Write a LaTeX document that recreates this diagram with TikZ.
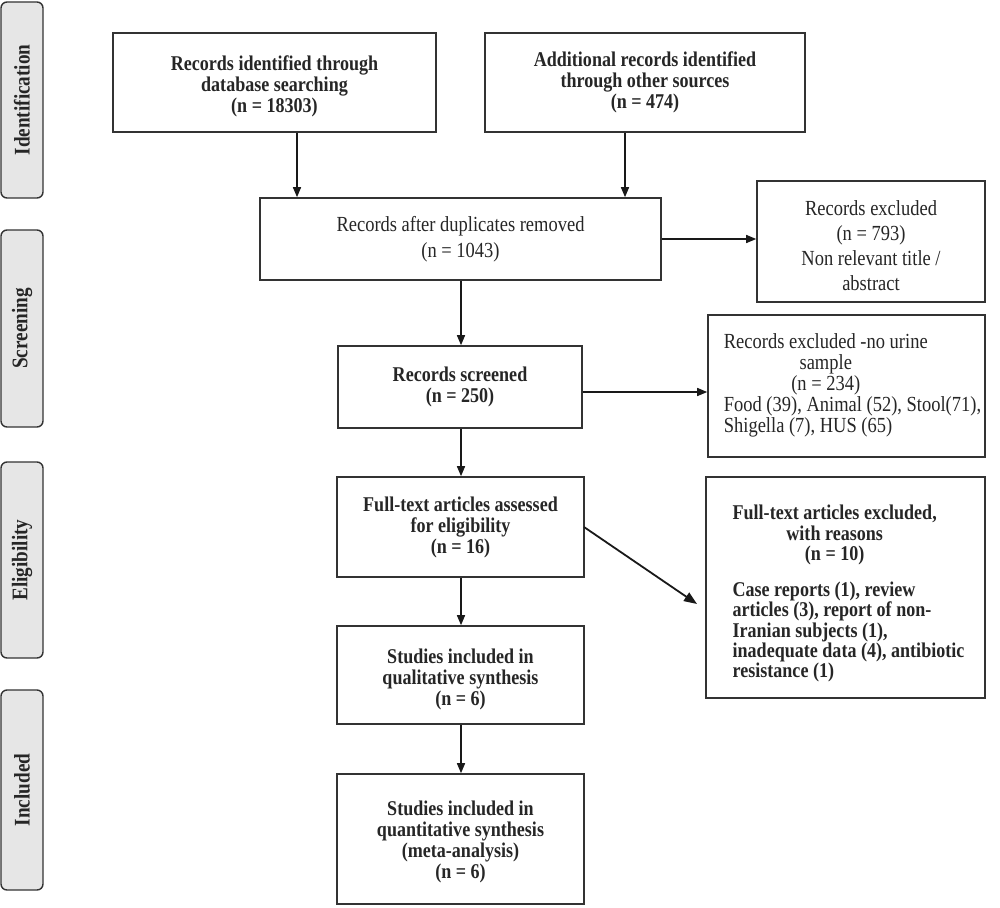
\documentclass[tikz,border=0pt]{standalone}
\usepackage{fontspec}
\setmainfont{Liberation Serif}[FakeStretch=0.86]
\usetikzlibrary{arrows.meta}
\definecolor{edge}{HTML}{333333}
\definecolor{txt}{HTML}{262626}
\definecolor{sidefill}{HTML}{E6E6E6}
\newcommand\lowtext[2]{\raisebox{-#1}[\height][\depth]{\begin{tabular}{@{}c@{}}#2\end{tabular}}}
\begin{document}
\begin{tikzpicture}[x=1pt,y=-1pt,
  box/.style={draw=edge, line width=1.6pt, fill=white, inner sep=0pt, align=center, text=txt},
  side/.style={draw=edge, line width=1.4pt, fill=sidefill, rounded corners=6pt, inner sep=0pt,
    minimum height=42pt, text=txt, rotate=90, font=\bfseries\fontsize{22.3}{22}\selectfont},
  arr/.style={line width=1.5pt, draw=black!90, -{Triangle[length=10pt,width=8pt]}},
  bt/.style={font=\bfseries\fontsize{21}{21}\selectfont},
  nt/.style={font=\fontsize{21.5}{25}\selectfont}]
\useasboundingbox (0,0) rectangle (1000,907);

% side labels
\node[side, minimum width=196pt] (sIdent) at (22,100) {Identification};
\node[side, minimum width=197pt] (sScreen) at (22,328.5) {Screening};
\node[side, minimum width=196pt] (sElig) at (22,560) {Eligibility};
\node[side, minimum width=200pt] (sIncl) at (22,790) {Included};

% boxes
\node[box, bt, minimum width=323pt, minimum height=99pt] (id1) at (274.5,82.5)
  {\lowtext{5pt}{Records identified through\\database searching\\(n = 18303)}};
\node[box, bt, minimum width=320pt, minimum height=99pt] (id2) at (645,82.5)
  {Additional records identified\\through other sources\\(n = 474)};
\node[box, nt, font=\fontsize{21.5}{26.5}\selectfont, minimum width=401pt, minimum height=82pt] (dup) at (460.5,239)
  {Records after duplicates removed\\(n = 1043)};
\node[box, nt, minimum width=228pt, minimum height=121pt] (exc1) at (871,241.5)
  {\lowtext{6pt}{Records excluded\\(n = 793)\\Non relevant title /\\abstract}};
\node[box, font=\fontsize{21.5}{20.7}\selectfont, minimum width=277pt, minimum height=142pt] (exc2) at (846.5,386)
  {\hspace*{12pt}\begin{tabular}{@{}l@{}}\begin{tabular}[b]{@{}c@{}}Records excluded -no urine\\sample\\(n = 234)\end{tabular}\\
   Food (39), Animal (52), Stool(71),\\Shigella (7), HUS (65)\end{tabular}};
\node[box, bt, minimum width=244pt, minimum height=82pt] (scr) at (460,387)
  {Records screened\\(n = 250)};
\node[box, bt, minimum width=247pt, minimum height=100pt] (full) at (460.5,527)
  {Full-text articles assessed\\for eligibility\\(n = 16)};
\node[box, font=\bfseries\fontsize{21}{20.2}\selectfont, minimum width=279pt, minimum height=221pt] (exc3) at (845.5,587.5)
  {\hspace*{6pt}\raisebox{-7pt}[\height][\depth]{\def\arraystretch{0.96}\begin{tabular}{@{}l@{}}\begin{tabular}[b]{@{}c@{}}Full-text articles excluded,\\with reasons\\(n = 10)\end{tabular}\\[15pt]
   Case reports (1), review\\articles (3), report of non-\\Iranian subjects (1),\\inadequate data (4), antibiotic\\resistance (1)\end{tabular}}};
\node[box, bt, minimum width=247pt, minimum height=98pt] (qual) at (460.5,675)
  {\lowtext{5pt}{Studies included in\\qualitative synthesis\\(n = 6)}};
\node[box, bt, minimum width=247pt, minimum height=130pt] (quant) at (460.5,839)
  {\lowtext{4pt}{Studies included in\\quantitative synthesis\\(meta-analysis)\\(n = 6)}};

% connector anchors
\coordinate (c1) at (297,0);
\coordinate (c2) at (625,0);
\coordinate (c3) at (0,392);
\coordinate (c4) at (461,0);
\coordinate (d1) at (584,527);
\coordinate (d2) at (697,604);

% connectors
\draw[arr] (id1.south -| c1) -- (dup.north -| c1);
\draw[arr] (id2.south -| c2) -- (dup.north -| c2);
\draw[arr] (dup.east) -- (dup.east -| exc1.west);
\draw[arr] (dup.south -| c4) -- (scr.north -| c4);
\draw[arr] (scr.east |- c3) -- (exc2.west |- c3);
\draw[arr] (scr.south -| c4) -- (full.north -| c4);
\draw[arr, line width=1.8pt, -{Triangle[length=13pt,width=10pt]}] (d1) -- (d2);
\draw[arr] (full.south -| c4) -- (qual.north -| c4);
\draw[arr] (qual.south -| c4) -- (quant.north -| c4);
\end{tikzpicture}
\end{document}
